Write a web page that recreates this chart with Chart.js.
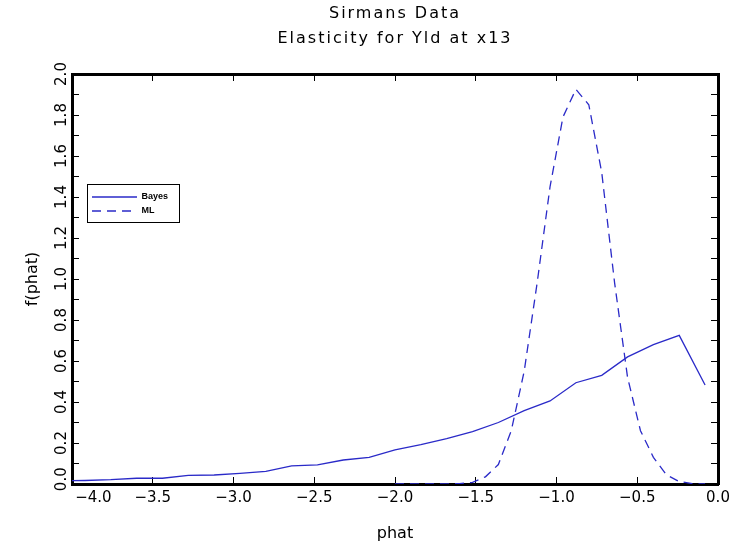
<!DOCTYPE html>
<html>
<head>
<meta charset="utf-8">
<title>Sirmans Data</title>
<script src="https://cdn.jsdelivr.net/npm/chart.js@4.4.1/dist/chart.umd.min.js"></script>
<style>
    html, body { margin: 0; padding: 0; background: #fff; }
    #wrap { width: 734px; height: 549px; }
</style>
</head>
<body>
<div id="wrap"><canvas id="elastChart" width="734" height="549"></canvas></div>
<script>
// Bayes density (polyline)
const bayesX = [-4.08, -3.92, -3.76, -3.60, -3.44, -3.28, -3.12, -2.96, -2.80, -2.64, -2.48, -2.32, -2.16,
                -2.00, -1.84, -1.68, -1.52, -1.36, -1.20, -1.04, -0.88, -0.72, -0.56, -0.40, -0.24, -0.08];
const bayesY = [0.015, 0.017, 0.021, 0.028, 0.028, 0.042, 0.044, 0.052, 0.062, 0.088, 0.093, 0.117, 0.130,
                0.166, 0.192, 0.221, 0.256, 0.300, 0.358, 0.405, 0.494, 0.530, 0.620, 0.680, 0.725, 0.483];

// ML density
const mlX = [-2.00, -1.92, -1.84, -1.76, -1.68, -1.60, -1.52, -1.44, -1.36, -1.28, -1.20, -1.12, -1.04,
             -0.96, -0.88, -0.80, -0.72, -0.64, -0.56, -0.48, -0.40, -0.32, -0.24, -0.16, -0.08];
const mlY = [0.000, 0.000, 0.000, 0.000, 0.000, 0.002, 0.008, 0.035, 0.095, 0.260, 0.550, 0.980, 1.450,
             1.790, 1.925, 1.850, 1.520, 0.980, 0.520, 0.260, 0.130, 0.045, 0.012, 0.002, 0.000];

// Axis ticks
const xTicks = [-4.0, -3.5, -3.0, -2.5, -2.0, -1.5, -1.0, -0.5, 0.0];
const yTicks = [0.0, 0.1, 0.2, 0.3, 0.4, 0.5, 0.6, 0.7, 0.8, 0.9, 1.0,
                1.1, 1.2, 1.3, 1.4, 1.5, 1.6, 1.7, 1.8, 1.9, 2.0];
const yLabelled = [0.0, 0.2, 0.4, 0.6, 0.8, 1.0, 1.2, 1.4, 1.6, 1.8, 2.0];

const lineBlue = '#2a2ac8';
const fontFam = 'DejaVu Sans';

function fmt(v) {
    return (v < -1e-9 ? '\u2212' : '') + Math.abs(v).toFixed(1);
}

function toPoints(xs, ys) {
    return xs.map((x, i) => ({ x: x, y: ys[i] }));
}

// Shared look for the frame axes (ticks pointing inward)
function frameGrid() {
    return { drawOnChartArea: false, drawTicks: true, tickLength: -7, color: '#000', lineWidth: 1 };
}
const frameBorder = { display: true, width: 3, color: '#000' };

// Title drawn with a little letter spacing, legend moved inside the frame with a box round it
const framePlugin = {
    id: 'framePlugin',
    afterLayout(chart) {
        const lg = chart.legend;
        const ca = chart.chartArea;
        if (!lg) return;
        lg.left = ca.left + 15;
        lg.top = ca.top + 113.5;
        lg.width = 92;
        lg.height = 40;
        lg.right = lg.left + lg.width;
        lg.bottom = lg.top + lg.height;
    },
    beforeDraw(chart) {
        const tb = chart.titleBlock;
        if (tb && !tb._spaced) {
            const orig = tb.draw;
            tb.draw = function(...args) {
                const ctx = this.ctx;
                ctx.save();
                ctx.letterSpacing = '2px';
                orig.apply(this, args);
                ctx.restore();
            };
            tb._spaced = true;
        }
    },
    afterDraw(chart) {
        const ctx = chart.ctx;
        const ca = chart.chartArea;
        ctx.save();
        ctx.strokeStyle = '#000';
        ctx.lineWidth = 1;
        ctx.strokeRect(ca.left + 15.5, ca.top + 110.5, 92, 38);
        ctx.restore();
    }
};

new Chart(document.getElementById('elastChart'), {
    type: 'line',
    data: {
        datasets: [
            {
                label: 'Bayes',
                data: toPoints(bayesX, bayesY),
                borderColor: lineBlue,
                backgroundColor: lineBlue,
                borderWidth: 1.3,
                pointRadius: 0,
                tension: 0,
                xAxisID: 'x',
                yAxisID: 'y'
            },
            {
                label: 'ML',
                data: toPoints(mlX, mlY),
                borderColor: lineBlue,
                backgroundColor: lineBlue,
                borderWidth: 1.3,
                borderDash: [9, 6],
                pointRadius: 0,
                tension: 0,
                xAxisID: 'x',
                yAxisID: 'y'
            }
        ]
    },
    options: {
        responsive: false,
        animation: false,
        devicePixelRatio: 1,
        layout: { padding: { left: 0, right: 16, top: 0, bottom: 0 } },
        plugins: {
            title: {
                display: true,
                text: ['Sirmans Data', 'Elasticity for Yld at x13'],
                color: '#000',
                fullSize: false,
                font: { family: fontFam, size: 16, weight: 'normal', lineHeight: '25px' },
                padding: { top: 1.5, bottom: 22.5 }
            },
            legend: {
                display: true,
                position: 'chartArea',
                align: 'start',
                labels: {
                    usePointStyle: true,
                    pointStyle: 'line',
                    pointStyleWidth: 45,
                    padding: 5,
                    color: '#000',
                    font: { family: 'Liberation Sans', size: 9, weight: 'bold' },
                    // keep each dataset's dash pattern on its legend sample
                    generateLabels: (chart) => {
                        const items = Chart.defaults.plugins.legend.labels.generateLabels(chart);
                        items.forEach((it) => {
                            const ds = chart.data.datasets[it.datasetIndex];
                            it.lineDash = ds.borderDash || [];
                            it.strokeStyle = ds.borderColor;
                            it.lineWidth = ds.borderWidth;
                        });
                        return items;
                    }
                }
            },
            tooltip: { enabled: false }
        },
        scales: {
            x: {
                type: 'linear',
                position: 'bottom',
                min: -4,
                max: 0,
                afterBuildTicks: (s) => { s.ticks = xTicks.map(v => ({ value: v })); },
                ticks: {
                    autoSkip: false,
                    maxRotation: 0,
                    minRotation: 0,
                    padding: 12,
                    color: '#000',
                    font: { family: fontFam, size: 15 },
                    callback: (v) => (Math.abs(v + 4) < 1e-9 ? '\u00A0'.repeat(9) : '') + fmt(v)
                },
                grid: frameGrid(),
                border: frameBorder,
                title: {
                    display: true,
                    text: 'phat',
                    color: '#000',
                    font: { family: fontFam, size: 16 },
                    padding: { top: 0, bottom: 6 }
                },
                afterFit: (s) => { s.height = 65; s.paddingLeft = 0; s.paddingRight = 0; }
            },
            y: {
                type: 'linear',
                position: 'left',
                min: 0,
                max: 2,
                afterBuildTicks: (s) => { s.ticks = yTicks.map(v => ({ value: v })); },
                ticks: {
                    autoSkip: false,
                    minRotation: 90,
                    maxRotation: 90,
                    crossAlign: 'center',
                    padding: 0,
                    color: '#000',
                    font: { family: fontFam, size: 15 },
                    callback: (v) => {
                        if (!yLabelled.some(t => Math.abs(t - v) < 1e-6)) return '';
                        return (Math.abs(v) < 1e-9 ? '\u00A0\u00A0' : '') + fmt(v);
                    }
                },
                grid: frameGrid(),
                border: frameBorder,
                title: {
                    display: true,
                    text: 'f(phat)',
                    color: '#000',
                    font: { family: fontFam, size: 16 },
                    padding: { top: 23, bottom: 0 }
                },
                afterFit: (s) => { s.width = 72; s.paddingTop = 0; s.paddingBottom = 0; }
            },
            xTop: {
                type: 'linear',
                position: 'top',
                min: -4,
                max: 0,
                afterBuildTicks: (s) => { s.ticks = xTicks.map(v => ({ value: v })); },
                ticks: { display: false },
                grid: frameGrid(),
                border: frameBorder,
                afterFit: (s) => { s.height = 0; }
            },
            yRight: {
                type: 'linear',
                position: 'right',
                min: 0,
                max: 2,
                afterBuildTicks: (s) => { s.ticks = yTicks.map(v => ({ value: v })); },
                ticks: { display: false },
                grid: frameGrid(),
                border: frameBorder,
                afterFit: (s) => { s.width = 0; }
            }
        }
    },
    plugins: [framePlugin]
});
</script>
</body>
</html>
